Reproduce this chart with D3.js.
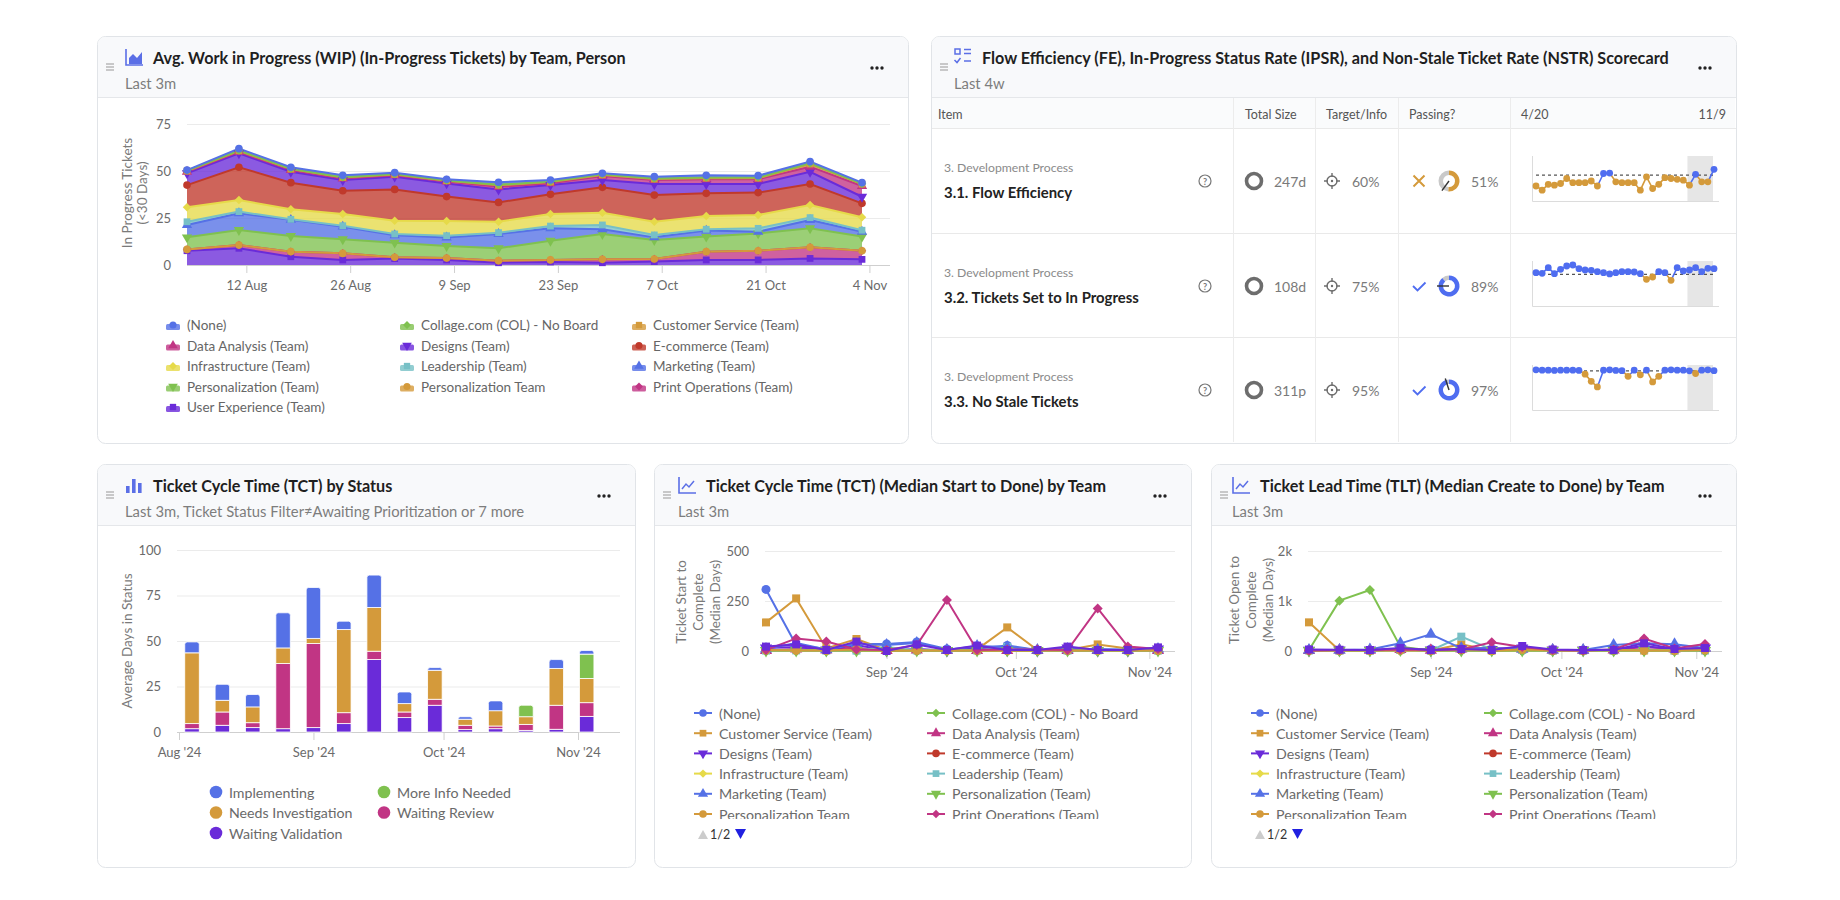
<!DOCTYPE html>
<html>
<head>
<meta charset="utf-8">
<script src="https://cdn.jsdelivr.net/npm/d3@7"></script>
<style>
  body { margin: 0; background: #fff; }
  svg { display: block; font-family: Lato, "Noto Sans", sans-serif; }
</style>
</head>
<body>
<svg id="board" width="1840" height="900"></svg>
<script>
// ---------- data ----------
var weeks = ["2024-08-04","2024-08-11","2024-08-18","2024-08-25","2024-09-01","2024-09-08","2024-09-15",
             "2024-09-22","2024-09-29","2024-10-06","2024-10-13","2024-10-20","2024-10-27","2024-11-03"];
var wipTicks = ["2024-08-12","2024-08-26","2024-09-09","2024-09-23","2024-10-07","2024-10-21","2024-11-04"];
var monthTicks = ["2024-08-01","2024-09-01","2024-10-01","2024-11-01"];

var teams = ["(None)","Collage.com (COL) - No Board","Customer Service (Team)","Data Analysis (Team)",
             "Designs (Team)","E-commerce (Team)","Infrastructure (Team)","Leadership (Team)",
             "Marketing (Team)","Personalization (Team)","Personalization Team","Print Operations (Team)",
             "User Experience (Team)"];
var teamColors = ["#5571e6","#7fc14f","#d49a3b","#c13584","#6a2bd9","#c0392b","#e6da49","#77c0c6",
                  "#5571e6","#7fc14f","#d49a3b","#c13584","#6a2bd9"];
var teamShapes = ["circle","diamond","square","triangle","triangle-down","circle","diamond","square",
                  "triangle","triangle-down","circle","diamond","square"];

// avg WIP per team, weekly
var wipNone      = [0.3, 1.0, 0.8, 1.0, 0.7, 0.6, 1.3, 0.8, 0.5, 1.0, 1.2, 1.0, 0.9, 0.6];
var wipCollage   = [0.2, 0.2, 0.2, 0.2, 0.2, 0.2, 0.3, 0.3, 0.4, 0.3, 0.3, 0.3, 0.4, 0.2];
var wipCustomer  = [0.4, 0.5, 0.5, 0.5, 0.5, 0.4, 0.8, 0.6, 0.6, 0.5, 0.6, 0.6, 1.4, 1.0];
var wipData      = [0.8, 0.8, 0.9, 0.8, 0.7, 1.0, 1.4, 0.9, 2.1, 2.1, 2.5, 2.5, 2.7, 5.7];
var wipDesigns   = [6.3, 7.4, 5.8, 5.7, 6.8, 7.0, 6.9, 5.0, 3.9, 5.9, 5.0, 4.6, 6.5, 3.5];
var wipEcom      = [11.8, 17.4, 14.2, 12.4, 16.6, 13.0, 10.3, 10.5, 13.5, 14.2, 12.1, 11.9, 11.2, 7.4];
var wipInfra     = [7.7, 6.2, 5.3, 6.2, 7.1, 7.8, 5.8, 6.4, 6.5, 7.0, 7.0, 7.1, 6.7, 6.9];
var wipLeader    = [1.7, 0.9, 0.3, 0.5, 0.7, 1.0, 0.7, 1.2, 2.3, 1.3, 0.7, 1.8, 1.3, 0.8];
var wipMarketing = [6.6, 8.9, 8.6, 6.7, 3.9, 4.5, 7.6, 6.6, 2.5, 1.4, 3.2, 0.9, 4.4, 2.6];
var wipPersT     = [6.4, 8.0, 8.3, 7.5, 7.8, 6.4, 6.6, 10.2, 13.5, 10.1, 8.0, 9.2, 10.1, 7.5];
var wipPersTeam  = [0, 0, 0, 0, 0, 0, 0, 0, 0, 0, 0, 0, 0, 0];
var wipPrint     = [0.7, 1.7, 2.7, 3.5, 0.7, 1.0, 1.1, 1.1, 1.8, 1.4, 4.4, 4.9, 5.9, 4.6];
var wipUX        = [7.6, 8.9, 4.4, 2.7, 3.4, 2.7, 1.2, 1.6, 1.2, 1.8, 2.7, 2.7, 3.5, 3.0];

// scorecard
var scoreGroup = "3. Development Process";
var scoreItems = ["3.1. Flow Efficiency", "3.2. Tickets Set to In Progress", "3.3. No Stale Tickets"];
var scoreSizes = ["247d", "108d", "311p"];
var scoreTargets = [60, 75, 95];
var scorePassing = [51, 89, 97];
var scoreColumns = ["Item", "Total Size", "Target/Info", "Passing?"];
var sparkStart = "4/20", sparkEnd = "11/9";
var sparkFE   = [47, 42, 49, 48, 50, 56, 51, 51, 51, 53, 47, 62, 62.5, 52, 51, 51, 51, 42, 58, 44,
                 49, 57, 56, 55, 54, 48, 61, 52, 52, 67];
var sparkIPSR = [77, 76.2, 83, 75.8, 81, 85, 86.2, 81.8, 80.2, 79.8, 78.2, 77, 75.5, 77, 78.2, 78.2, 77.8,
                 75.8, 69, 71.8, 78.2, 77, 67.8, 83, 79, 80.2, 83, 78.2, 82.2, 81.8];
var sparkNSTR = [95.5, 95.3, 95.3, 95.2, 95.3, 95.3, 95.3, 95.2, 93.5, 90.2, 87.6, 95.3, 95.5, 95.2, 95.1,
                 92.5, 95.3, 93.2, 95.3, 89.9, 92.5, 95.3, 95.5, 95.3, 95.3, 95.0, 93.8, 95.3, 95.5, 95.1];

// ticket cycle time by status (avg days)
var statuses = ["Implementing","More Info Needed","Needs Investigation","Waiting Review","Waiting Validation"];
var statusColors = ["#5571e6","#7fc14f","#d49a3b","#c13584","#6a2bd9"];
var implementing      = [6.0, 8.8, 6.8, 19.3, 28.0, 4.6, 17.8, 6.4, 1.5, 1.4, 5.4, 0, 4.9, 2.0];
var moreInfoNeeded    = [0, 0, 0, 0, 0, 0, 0, 0, 0, 0, 0, 6.3, 0, 13.4];
var needsInvestigation= [38.9, 6.4, 8.7, 8.6, 2.8, 45.7, 24.0, 4.6, 15.9, 3.3, 8.4, 4.2, 20.2, 13.3];
var waitingReview     = [2.8, 7.3, 2.7, 35.8, 46.2, 6.0, 4.6, 3.1, 3.3, 2.4, 1.5, 3.3, 13.2, 7.5];
var waitingValidation = [1.8, 3.7, 2.4, 1.8, 2.4, 4.6, 39.8, 7.9, 14.7, 1.3, 1.8, 0.9, 1.5, 8.6];

// median ticket cycle time (start to done) by team
var tctNone      = [308, 30, 10, 35, 35, 45, 10, 12, 28, 5, 5, 10, 8, 12];
var tctCollage   = [2, 3, 2, 2, 1, 2, 2, 1, 2, 1, 1, 2, 1, 2];
var tctCustomer  = [143, 263, 13, 60, 5, 5, 5, 8, 118, 5, 5, 33, 13, 5];
var tctData      = [3, 10, 5, 15, 3, 5, 2, 3, 2, 2, 3, 2, 2, 2];
var tctDesigns   = [15, 20, 5, 30, 3, 10, 3, 20, 5, 3, 15, 3, 3, 10];
var tctEcom      = [3, 5, 2, 3, 2, 2, 3, 2, 2, 2, 2, 3, 2, 2];
var tctInfra     = [2, 2, 3, 2, 2, 2, 2, 2, 2, 2, 2, 2, 2, 2];
var tctLeader    = [2, 3, 2, 2, 20, 3, 5, 3, 20, 3, 2, 3, 2, 2];
var tctMarketing = [10, 40, 8, 35, 30, 40, 5, 25, 20, 5, 10, 5, 5, 10];
var tctPersT     = [3, 2, 2, 3, 2, 2, 2, 2, 2, 2, 2, 2, 2, 2];
var tctPersTeam  = [5, 3, 2, 8, 2, 3, 2, 2, 2, 2, 3, 2, 2, 2];
var tctPrint     = [5, 63, 47, 8, 5, 30, 255, 5, 8, 8, 5, 213, 22, 10];
var tctUX        = [22, 33, 5, 47, 0, 33, 5, 27, 5, 5, 22, 5, 5, 18];

// median ticket lead time (create to done) by team
var tltNone      = [20, 15, 10, 30, 40, 20, 10, 15, 10, 10, 15, 30, 20, 25];
var tltCollage   = [20, 1007, 1220, 87, 10, 10, 15, 10, 10, 10, 10, 10, 10, 10];
var tltCustomer  = [573, 10, 10, 20, 10, 133, 10, 30, 10, 10, 10, 10, 10, 20];
var tltData      = [10, 20, 15, 30, 15, 40, 60, 40, 20, 15, 20, 80, 40, 60];
var tltDesigns   = [15, 20, 20, 40, 20, 40, 30, 60, 20, 20, 30, 100, 30, 60];
var tltEcom      = [10, 10, 10, 15, 10, 20, 10, 15, 10, 10, 10, 15, 10, 10];
var tltInfra     = [10, 10, 10, 10, 10, 15, 10, 10, 10, 10, 10, 10, 10, 10];
var tltLeader    = [10, 10, 10, 20, 10, 287, 30, 20, 10, 10, 10, 20, 10, 10];
var tltMarketing = [20, 20, 30, 153, 333, 53, 60, 40, 20, 20, 120, 153, 133, 60];
var tltPersT     = [10, 10, 10, 20, 10, 10, 10, 10, 10, 10, 10, 10, 10, 10];
var tltPersTeam  = [10, 10, 10, 20, 10, 30, 10, 30, 10, 10, 20, 10, 10, 20];
var tltPrint     = [10, 20, 20, 30, 20, 30, 173, 80, 20, 10, 30, 250, 50, 140];
var tltUX        = [30, 25, 20, 60, 20, 40, 20, 100, 30, 20, 20, 153, 40, 60];

// ---------- helpers ----------
var parse = d3.utcParse("%Y-%m-%d");
var weekDates = weeks.map(parse);
var svg = d3.select("#board");
var GRID = "#ebebeb", AXIS = "#cfcfcf", LABEL = "#6b6b6b";

function topRounded(x, y, w, h, r) {
  return "M" + x + "," + (y + h) + "V" + (y + r) + "Q" + x + "," + y + " " + (x + r) + "," + y +
         "H" + (x + w - r) + "Q" + (x + w) + "," + y + " " + (x + w) + "," + (y + r) + "V" + (y + h) + "Z";
}

function symbolPath(shape, size) {
  var t = {circle: d3.symbolCircle, diamond: d3.symbolDiamond2, square: d3.symbolSquare,
           triangle: d3.symbolTriangle, "triangle-down": d3.symbolTriangle}[shape];
  return d3.symbol().type(t).size(size)();
}
function drawSymbol(g, shape, color, x, y, size) {
  return g.append("path").attr("d", symbolPath(shape, size))
    .attr("transform", "translate(" + x + "," + y + ")" + (shape == "triangle-down" ? " rotate(180)" : ""))
    .attr("fill", color);
}

function drawIcon(g, kind, cx, cy) {
  var c = "#5b6fe6";
  var ig = g.append("g").attr("transform", "translate(" + cx + "," + cy + ")");
  if (kind == "area" || kind == "line") {
    ig.append("path").attr("d", "M-8,-8V8H9").attr("fill", "none").attr("stroke", c).attr("stroke-width", 1.6);
  }
  if (kind == "area") {
    ig.append("path").attr("d", "M-5,7V1L-1,-3L3,1L8,-5V7Z").attr("fill", c);
  } else if (kind == "line") {
    ig.append("path").attr("d", "M-5,4L-1,-1L2,2L7,-4").attr("fill", "none").attr("stroke", c).attr("stroke-width", 1.5);
  } else if (kind == "bar") {
    [[-8, 7], [-2, 14], [4, 10]].forEach(function(b) {
      ig.append("rect").attr("x", b[0]).attr("y", 8 - b[1]).attr("width", 3.6).attr("height", b[1]).attr("fill", c);
    });
  } else if (kind == "list") {
    ig.append("rect").attr("x", -8).attr("y", -8).attr("width", 5).attr("height", 5).attr("fill", "none").attr("stroke", c).attr("stroke-width", 1.5);
    ig.append("path").attr("d", "M-8.5,3L-6,5.5L-2.5,1").attr("fill", "none").attr("stroke", c).attr("stroke-width", 1.5);
    ig.append("path").attr("d", "M1,-7.5H8M1,-3.5H8M1,4H8").attr("fill", "none").attr("stroke", c).attr("stroke-width", 1.6);
  }
}

function drawPanel(p) {
  var g = svg.append("g");
  g.append("rect").attr("x", p.x + 0.5).attr("y", p.y + 0.5).attr("width", p.w).attr("height", p.h)
    .attr("rx", 8).attr("fill", "#fff").attr("stroke", "#e1e4e8");
  g.append("path").attr("d", topRounded(p.x + 1, p.y + 1, p.w - 1, 60, 7.5)).attr("fill", "#f8f9fb");
  g.append("line").attr("x1", p.x + 1).attr("x2", p.x + p.w).attr("y1", p.y + 61.5).attr("y2", p.y + 61.5)
    .attr("stroke", "#e5e7ea");
  [-3, 0, 3].forEach(function(o) {
    g.append("line").attr("x1", p.x + 9).attr("x2", p.x + 17).attr("y1", p.y + 31 + o).attr("y2", p.y + 31 + o)
      .attr("stroke", "#a0a0a0").attr("stroke-width", 1.1);
  });
  drawIcon(g, p.icon, p.x + p.tx - 19, p.y + 21);
  g.append("text").attr("x", p.x + p.tx).attr("y", p.y + 21).attr("dominant-baseline", "central")
    .attr("font-size", 16.2).attr("font-weight", 700).attr("fill", "#1f1f1f").text(p.title);
  g.append("text").attr("x", p.x + p.tx - 28).attr("y", p.y + 47).attr("dominant-baseline", "central")
    .attr("font-size", 14.8).attr("fill", "#7d7d7d").text(p.subtitle);
  [-5, 0, 5].forEach(function(o) {
    g.append("circle").attr("cx", p.x + p.w - 31 + o).attr("cy", p.y + 32).attr("r", 1.7).attr("fill", "#222");
  });
  return g;
}

function styleAxis(ax) {
  ax.attr("font-family", null).attr("font-size", 13);
  ax.select(".domain").remove();
  ax.selectAll(".tick text").attr("fill", LABEL);
}

function yTitle(g, lines, cx, cy, gap) {
  lines.forEach(function(t, i) {
    var x = cx + (i - (lines.length - 1) / 2) * gap;
    g.append("text").attr("transform", "translate(" + x + "," + cy + ") rotate(-90)")
      .attr("text-anchor", "middle").attr("dominant-baseline", "central")
      .attr("font-size", 13.5).attr("fill", "#7a7a7a").text(t);
  });
}

// ---------- panel 1: stacked area WIP ----------
(function() {
  var g = drawPanel({x: 97, y: 36, w: 811, h: 407, tx: 56, icon: "area",
    title: "Avg. Work in Progress (WIP) (In-Progress Tickets) by Team, Person", subtitle: "Last 3m"});
  var series = [wipNone, wipCollage, wipCustomer, wipData, wipDesigns, wipEcom, wipInfra, wipLeader,
                wipMarketing, wipPersT, wipPersTeam, wipPrint, wipUX];
  var x = d3.scaleUtc().domain([weekDates[0], weekDates[13]]).range([187, 862]);
  var y = d3.scaleLinear().domain([0, 75]).range([265, 124]);

  var ga = g.append("g").attr("transform", "translate(187,0)")
    .call(d3.axisLeft(y).tickValues([0, 25, 50, 75]).tickSize(-703).tickPadding(16));
  styleAxis(ga);
  ga.selectAll(".tick line").attr("stroke", GRID);

  g.append("line").attr("x1", 187).attr("x2", 890).attr("y1", 265.5).attr("y2", 265.5).attr("stroke", AXIS);
  var gx = g.append("g").attr("transform", "translate(0,265)")
    .call(d3.axisBottom(x).tickValues(wipTicks.map(parse)).tickFormat(d3.utcFormat("%-d %b")).tickSize(8).tickPadding(8));
  styleAxis(gx);
  gx.selectAll(".tick line").attr("stroke", AXIS);

  yTitle(g, ["In Progress Tickets", "(<30 Days)"], 134.5, 193, 15);

  var rows = weekDates.map(function(d, i) {
    var r = {date: d};
    teams.forEach(function(t, k) { r[t] = series[k][i]; });
    return r;
  });
  var keys = teams.slice().reverse();
  var layers = d3.stack().keys(keys)(rows);
  var color = function(k) { return teamColors[teams.indexOf(k)]; };
  var area = d3.area().x(function(d) { return x(d.data.date); })
    .y0(function(d) { return y(d[0]); }).y1(function(d) { return y(d[1]); });
  var line = d3.line().x(function(d) { return x(d.data.date); }).y(function(d) { return y(d[1]); });

  layers.forEach(function(L) {
    g.append("path").attr("d", area(L)).attr("fill", color(L.key)).attr("fill-opacity", 0.78);
  });
  layers.forEach(function(L) {
    g.append("path").attr("d", line(L)).attr("fill", "none").attr("stroke", color(L.key)).attr("stroke-width", 2);
  });
  layers.forEach(function(L) {
    var k = teams.indexOf(L.key);
    L.forEach(function(d) { drawSymbol(g, teamShapes[k], teamColors[k], x(d.data.date), y(d[1]), 46); });
  });

  // legend, 3 columns
  teams.forEach(function(t, i) {
    var cx = [173, 407, 639][i % 3], cy = 325 + Math.floor(i / 3) * 20.5;
    g.append("rect").attr("x", cx - 7).attr("y", cy - 1).attr("width", 14).attr("height", 6).attr("rx", 1.5)
      .attr("fill", teamColors[i]).attr("fill-opacity", 0.8);
    drawSymbol(g, teamShapes[i], teamColors[i], cx, cy, 40);
    g.append("text").attr("x", cx + 14).attr("y", cy).attr("dominant-baseline", "central")
      .attr("font-size", 13.5).attr("fill", "#666").text(t);
  });
})();

// ---------- panel 2: scorecard ----------
(function() {
  var g = drawPanel({x: 931, y: 36, w: 805, h: 407, tx: 51, icon: "list",
    title: "Flow Efficiency (FE), In-Progress Status Rate (IPSR), and Non-Stale Ticket Rate (NSTR) Scorecard",
    subtitle: "Last 4w"});
  var PASS = "#4f6df0", FAIL = "#d49a3b";
  g.append("rect").attr("x", 932).attr("y", 98).attr("width", 803).attr("height", 30).attr("fill", "#fafbfc");
  [128, 233, 337].forEach(function(yy) {
    g.append("line").attr("x1", 932).attr("x2", 1736).attr("y1", yy + 0.5).attr("y2", yy + 0.5).attr("stroke", "#e9e9e9");
  });
  [1233, 1315, 1398, 1510].forEach(function(xx) {
    g.append("line").attr("x1", xx + 0.5).attr("x2", xx + 0.5).attr("y1", 98).attr("y2", 442).attr("stroke", "#ececec");
  });
  var colX = [938, 1245, 1326, 1409];
  scoreColumns.forEach(function(c, i) {
    g.append("text").attr("x", colX[i]).attr("y", 114).attr("dominant-baseline", "central")
      .attr("font-size", 12.5).attr("fill", "#555").text(c);
  });
  g.append("text").attr("x", 1521).attr("y", 114).attr("dominant-baseline", "central")
    .attr("font-size", 12.5).attr("fill", "#555").text(sparkStart);
  g.append("text").attr("x", 1726).attr("y", 114).attr("dominant-baseline", "central").attr("text-anchor", "end")
    .attr("font-size", 12.5).attr("fill", "#555").text(sparkEnd);

  var sparks = [sparkFE, sparkIPSR, sparkNSTR];
  var domains = [[29, 83], [37, 91], [77, 97.7]];
  var rowTops = [128, 233, 337];
  var arc = d3.arc().innerRadius(6).outerRadius(10.5);

  scoreItems.forEach(function(item, r) {
    var top = rowTops[r], cy = top + 53;
    var ok = scorePassing[r] >= scoreTargets[r];
    g.append("text").attr("x", 944).attr("y", cy - 14).attr("dominant-baseline", "central")
      .attr("font-size", 12.2).attr("fill", "#8a8a8a").text(scoreGroup);
    g.append("text").attr("x", 944).attr("y", cy + 11).attr("dominant-baseline", "central")
      .attr("font-size", 14.9).attr("font-weight", 700).attr("fill", "#222").text(item);
    // help icon
    g.append("circle").attr("cx", 1205).attr("cy", cy).attr("r", 6).attr("fill", "none").attr("stroke", "#777").attr("stroke-width", 1.2);
    g.append("text").attr("x", 1205).attr("y", cy + 0.5).attr("text-anchor", "middle").attr("dominant-baseline", "central")
      .attr("font-size", 9).attr("font-weight", 700).attr("fill", "#777").text("?");
    // total size
    g.append("circle").attr("cx", 1254).attr("cy", cy).attr("r", 7.5).attr("fill", "none").attr("stroke", "#6d6d6d").attr("stroke-width", 3.6);
    g.append("text").attr("x", 1274).attr("y", cy).attr("dominant-baseline", "central")
      .attr("font-size", 14).attr("fill", "#7a7a7a").text(scoreSizes[r]);
    // target
    g.append("circle").attr("cx", 1332).attr("cy", cy).attr("r", 5).attr("fill", "none").attr("stroke", "#6d6d6d").attr("stroke-width", 1.4);
    g.append("circle").attr("cx", 1332).attr("cy", cy).attr("r", 1.2).attr("fill", "#6d6d6d");
    g.append("path").attr("d", "M1332," + (cy - 8) + "v4M1332," + (cy + 4) + "v4M1324," + cy + "h4M1336," + cy + "h4")
      .attr("stroke", "#6d6d6d").attr("stroke-width", 1.4);
    g.append("text").attr("x", 1352).attr("y", cy).attr("dominant-baseline", "central")
      .attr("font-size", 14).attr("fill", "#7a7a7a").text(scoreTargets[r] + "%");
    // pass / fail mark
    if (ok) {
      g.append("path").attr("d", "M1413," + cy + "l4.5,4.5l8,-8").attr("fill", "none").attr("stroke", PASS).attr("stroke-width", 1.8);
    } else {
      g.append("path").attr("d", "M1413.5," + (cy - 5.5) + "l11,11M1424.5," + (cy - 5.5) + "l-11,11")
        .attr("stroke", FAIL).attr("stroke-width", 2);
    }
    // donut
    var dg = g.append("g").attr("transform", "translate(1449," + cy + ")");
    var a = scorePassing[r] / 100 * 2 * Math.PI;
    dg.append("path").attr("d", arc({startAngle: a, endAngle: 2 * Math.PI})).attr("fill", "#c9c9c9");
    dg.append("path").attr("d", arc({startAngle: 0, endAngle: a})).attr("fill", ok ? PASS : FAIL);
    var ta = scoreTargets[r] / 100 * 2 * Math.PI;
    dg.append("line").attr("x1", 0).attr("y1", 0).attr("x2", 12 * Math.sin(ta)).attr("y2", -12 * Math.cos(ta))
      .attr("stroke", "#333").attr("stroke-width", 1.4);
    g.append("text").attr("x", 1471).attr("y", cy).attr("dominant-baseline", "central")
      .attr("font-size", 14).attr("fill", "#7a7a7a").text(scorePassing[r] + "%");

    // sparkline
    var vals = sparks[r];
    var sx = d3.scaleLinear().domain([0, vals.length - 1]).range([1536, 1714]);
    var sy = d3.scaleLinear().domain(domains[r]).range([top + 73, top + 28]);
    g.append("rect").attr("x", sx(25) - 2).attr("y", top + 28).attr("width", sx(29) - sx(25) + 1).attr("height", 45).attr("fill", "#e6e6e6");
    g.append("path").attr("d", "M1532.5," + (top + 28) + "V" + (top + 73.5) + "H1719").attr("fill", "none").attr("stroke", "#dcdcdc");
    g.append("line").attr("x1", 1536).attr("x2", 1714).attr("y1", sy(scoreTargets[r])).attr("y2", sy(scoreTargets[r]))
      .attr("stroke", "#555").attr("stroke-width", 1.2).attr("stroke-dasharray", "3,3");
    var col = function(v) { return v >= scoreTargets[r] ? PASS : FAIL; };
    for (var i = 1; i < vals.length; i++) {
      g.append("line").attr("x1", sx(i - 1)).attr("y1", sy(vals[i - 1])).attr("x2", sx(i)).attr("y2", sy(vals[i]))
        .attr("stroke", col(vals[i])).attr("stroke-width", 1.6);
    }
    vals.forEach(function(v, i) {
      g.append("circle").attr("cx", sx(i)).attr("cy", sy(v)).attr("r", 3.4).attr("fill", col(v));
    });
  });
})();

// ---------- panel 3: stacked bars by status ----------
(function() {
  var g = drawPanel({x: 97, y: 464, w: 538, h: 403, tx: 56, icon: "bar",
    title: "Ticket Cycle Time (TCT) by Status",
    subtitle: "Last 3m, Ticket Status Filter\u2260Awaiting Prioritization or 7 more"});
  var vals = [implementing, moreInfoNeeded, needsInvestigation, waitingReview, waitingValidation];
  var x = d3.scaleUtc().domain([parse("2024-08-01"), parse("2024-11-01")]).range([179, 578]);
  var y = d3.scaleLinear().domain([0, 100]).range([732, 550]);

  var ga = g.append("g").attr("transform", "translate(177,0)")
    .call(d3.axisLeft(y).tickValues([0, 25, 50, 75, 100]).tickSize(-443).tickPadding(16));
  styleAxis(ga);
  ga.selectAll(".tick line").attr("stroke", GRID);
  g.append("line").attr("x1", 177).attr("x2", 620).attr("y1", 732.5).attr("y2", 732.5).attr("stroke", AXIS);
  var gx = g.append("g").attr("transform", "translate(0,732)")
    .call(d3.axisBottom(x).tickValues(monthTicks.map(parse)).tickFormat(d3.utcFormat("%b '%y")).tickSize(8).tickPadding(8));
  styleAxis(gx);
  gx.selectAll(".tick line").attr("stroke", AXIS);
  yTitle(g, ["Average Days in Status"], 127, 641, 0);

  var order = [4, 3, 2, 1, 0]; // bottom to top
  var bw = 14.5;
  weekDates.forEach(function(d, i) {
    var base = 0, cx = x(d);
    var last = -1;
    order.forEach(function(s) { if (vals[s][i] > 0) last = s; });
    order.forEach(function(s) {
      var v = vals[s][i];
      if (!(v > 0)) return;
      var y0 = y(base), y1 = y(base + v);
      base += v;
      if (s == last) {
        g.append("path").attr("d", topRounded(cx - bw / 2, y1, bw, y0 - y1, 2.5)).attr("fill", statusColors[s])
          .attr("stroke", "#fff").attr("stroke-width", 0.8);
      } else {
        g.append("rect").attr("x", cx - bw / 2).attr("y", y1).attr("width", bw).attr("height", y0 - y1)
          .attr("fill", statusColors[s]).attr("stroke", "#fff").attr("stroke-width", 0.8);
      }
    });
  });

  statuses.forEach(function(s, i) {
    var cx = [216, 384][i % 2], cy = 792 + Math.floor(i / 2) * 20.5;
    g.append("circle").attr("cx", cx).attr("cy", cy).attr("r", 6.3).attr("fill", statusColors[i]);
    g.append("text").attr("x", cx + 13).attr("y", cy).attr("dominant-baseline", "central")
      .attr("font-size", 14.2).attr("fill", "#6a6a6a").text(s);
  });
})();

// ---------- panels 4 & 5: team lines ----------
function teamLines(p, series, yMax, yTicks, yFmt, titleLines, ySpec, xRange, plotRight) {
  var g = drawPanel(p);
  var left = xRange[0] - 1;
  var x = d3.scaleUtc().domain([weekDates[0], weekDates[13]]).range(xRange);
  var y = d3.scaleLinear().domain([0, yMax]).range([651, 551]);
  var ga = g.append("g").attr("transform", "translate(" + left + ",0)")
    .call(d3.axisLeft(y).tickValues(yTicks).tickFormat(yFmt).tickSize(-(plotRight - left)).tickPadding(16));
  styleAxis(ga);
  ga.selectAll(".tick line").attr("stroke", GRID);
  g.append("line").attr("x1", left).attr("x2", plotRight).attr("y1", 651.5).attr("y2", 651.5).attr("stroke", AXIS);
  var gx = g.append("g").attr("transform", "translate(0,651)")
    .call(d3.axisBottom(x).tickValues(monthTicks.slice(1).map(parse)).tickFormat(d3.utcFormat("%b '%y")).tickSize(8).tickPadding(9));
  styleAxis(gx);
  gx.selectAll(".tick line").attr("stroke", AXIS);
  yTitle(g, titleLines, ySpec[0], ySpec[1], 17);

  var line = d3.line().x(function(d, i) { return x(weekDates[i]); }).y(function(d) { return y(d); });
  series.forEach(function(vals, k) {
    g.append("path").attr("d", line(vals)).attr("fill", "none").attr("stroke", teamColors[k]).attr("stroke-width", 2);
    vals.forEach(function(v, i) { drawSymbol(g, teamShapes[k], teamColors[k], x(weekDates[i]), y(v), 64); });
  });

  // legend page 1 of 2, clipped
  var clipId = "clip" + p.x;
  g.append("clipPath").attr("id", clipId).append("rect").attr("x", p.x).attr("y", 700).attr("width", p.w).attr("height", 119);
  var lg = g.append("g").attr("clip-path", "url(#" + clipId + ")");
  teams.slice(0, 12).forEach(function(t, i) {
    var cx = p.x + [49, 282][i % 2], cy = 713 + Math.floor(i / 2) * 20.2;
    lg.append("line").attr("x1", cx - 9).attr("x2", cx + 9).attr("y1", cy).attr("y2", cy).attr("stroke", teamColors[i]).attr("stroke-width", 2);
    drawSymbol(lg, teamShapes[i], teamColors[i], cx, cy, 45);
    lg.append("text").attr("x", cx + 16).attr("y", cy).attr("dominant-baseline", "central")
      .attr("font-size", 14.2).attr("fill", "#6a6a6a").text(t);
  });
  var px = p.x + 49;
  g.append("path").attr("d", "M" + (px - 5) + ",839h10l-5,-9z").attr("fill", "#cccccc");
  g.append("text").attr("x", px + 7).attr("y", 834).attr("dominant-baseline", "central")
    .attr("font-size", 12.5).attr("fill", "#333").text("1/2");
  g.append("path").attr("d", "M" + (px + 32) + ",829h11l-5.5,10z").attr("fill", "#2020e0");
}

teamLines({x: 654, y: 464, w: 537, h: 403, tx: 52, icon: "line",
    title: "Ticket Cycle Time (TCT) (Median Start to Done) by Team", subtitle: "Last 3m"},
  [tctNone, tctCollage, tctCustomer, tctData, tctDesigns, tctEcom, tctInfra, tctLeader,
   tctMarketing, tctPersT, tctPersTeam, tctPrint, tctUX],
  500, [0, 250, 500], d3.format("d"), ["Ticket Start to", "Complete", "(Median Days)"], [698, 602], [766, 1158], 1175);

teamLines({x: 1211, y: 464, w: 525, h: 403, tx: 49, icon: "line",
    title: "Ticket Lead Time (TLT) (Median Create to Done) by Team", subtitle: "Last 3m"},
  [tltNone, tltCollage, tltCustomer, tltData, tltDesigns, tltEcom, tltInfra, tltLeader,
   tltMarketing, tltPersT, tltPersTeam, tltPrint, tltUX],
  2000, [0, 1000, 2000], function(v) { return v ? (v / 1000) + "k" : "0"; },
  ["Ticket Open to", "Complete", "(Median Days)"], [1251, 600], [1309, 1705], 1722);
</script>
</body>
</html>
